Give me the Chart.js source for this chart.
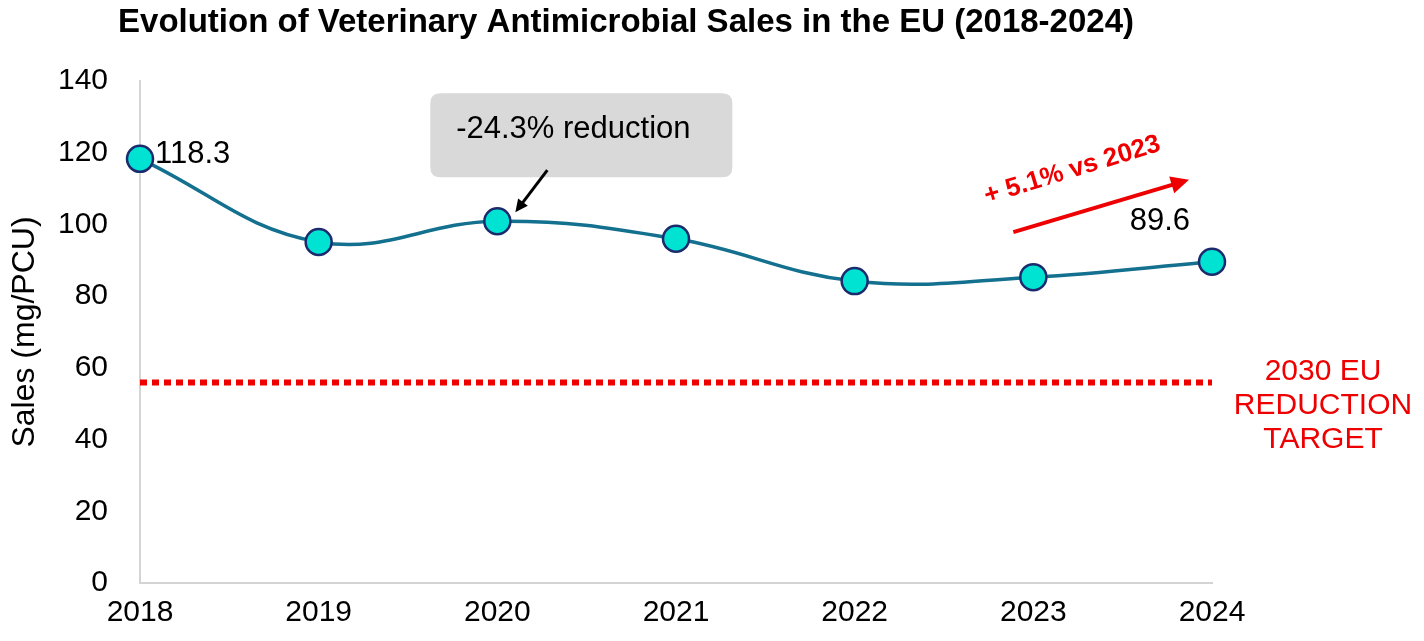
<!DOCTYPE html>
<html>
<head>
<meta charset="utf-8">
<script src="https://cdn.jsdelivr.net/npm/chart.js@4.4.1/dist/chart.umd.min.js"></script>
<style>
  html, body { margin: 0; padding: 0; background: #ffffff; }
  #wrap { width: 1424px; height: 641px; position: relative; }
</style>
</head>
<body>
<div id="wrap"><canvas id="c" width="1424" height="641"></canvas></div>
<script>
const titleText = 'Evolution of Veterinary Antimicrobial Sales in the EU (2018-2024)';
const categories = ['2018', '2019', '2020', '2021', '2022', '2023', '2024'];
const salesValues = [118.3, 95.1, 100.9, 96.0, 84.2, 85.3, 89.6];
const targetValues = [55.9, 55.9, 55.9, 55.9, 55.9, 55.9, 55.9];
const yTicks = [0, 20, 40, 60, 80, 100, 120, 140];
const yAxisTitle = 'Sales (mg/PCU)';
const reductionNote = '-24.3% reduction';
const growthNote = '+ 5.1% vs 2023';
const targetLabel = ['2030 EU', 'REDUCTION', 'TARGET'];

const FONT = "'Liberation Sans', Arial, Helvetica, sans-serif";

function roundRect(ctx, x, y, w, h, r) {
  ctx.beginPath();
  ctx.moveTo(x + r, y);
  ctx.lineTo(x + w - r, y);
  ctx.quadraticCurveTo(x + w, y, x + w, y + r);
  ctx.lineTo(x + w, y + h - r);
  ctx.quadraticCurveTo(x + w, y + h, x + w - r, y + h);
  ctx.lineTo(x + r, y + h);
  ctx.quadraticCurveTo(x, y + h, x, y + h - r);
  ctx.lineTo(x, y + r);
  ctx.quadraticCurveTo(x, y, x + r, y);
  ctx.closePath();
}

function arrow(ctx, x1, y1, x2, y2, color, width, head) {
  const a = Math.atan2(y2 - y1, x2 - x1);
  ctx.save();
  ctx.strokeStyle = color;
  ctx.fillStyle = color;
  ctx.lineWidth = width;
  ctx.beginPath();
  ctx.moveTo(x1, y1);
  ctx.lineTo(x2 - Math.cos(a) * head * 0.8, y2 - Math.sin(a) * head * 0.8);
  ctx.stroke();
  ctx.beginPath();
  ctx.moveTo(x2, y2);
  ctx.lineTo(x2 - head * Math.cos(a - 0.45), y2 - head * Math.sin(a - 0.45));
  ctx.lineTo(x2 - head * Math.cos(a + 0.45), y2 - head * Math.sin(a + 0.45));
  ctx.closePath();
  ctx.fill();
  ctx.restore();
}

const overlayPlugin = {
  id: 'overlay',
  afterDatasetsDraw(chart) {
    const ctx = chart.ctx;
    const pts = chart.getDatasetMeta(0).data;
    const ys = chart.scales.y;

    // Title
    ctx.save();
    ctx.fillStyle = '#000';
    ctx.font = 'bold 33px ' + FONT;
    ctx.textAlign = 'center';
    ctx.textBaseline = 'middle';
    ctx.fillText(titleText, 626, 23);
    ctx.restore();

    // Value labels
    ctx.save();
    ctx.fillStyle = '#000';
    ctx.font = '31px ' + FONT;
    ctx.textBaseline = 'middle';
    ctx.textAlign = 'left';
    ctx.fillText(salesValues[0].toFixed(1), pts[0].x + 15, pts[0].y - 4);
    ctx.textAlign = 'right';
    ctx.fillText(salesValues[6].toFixed(1), pts[6].x - 22, pts[6].y - 40);
    ctx.restore();

    // Reduction call-out box near 2020
    const p2 = pts[2];
    ctx.save();
    roundRect(ctx, p2.x - 67, p2.y - 128, 302, 84, 10);
    ctx.fillStyle = '#d9d9d9';
    ctx.fill();
    ctx.fillStyle = '#000';
    ctx.font = '31px ' + FONT;
    ctx.textAlign = 'center';
    ctx.textBaseline = 'middle';
    ctx.fillText(reductionNote, p2.x + 76, p2.y - 92);
    ctx.restore();
    arrow(ctx, p2.x + 50, p2.y - 51, p2.x + 18, p2.y - 9, '#000', 3, 14);

    // Growth arrow and note
    const p5 = pts[5], p6 = pts[6];
    arrow(ctx, p5.x - 20, p5.y - 45, p6.x - 23, p6.y - 82, '#ee0000', 4, 20);
    ctx.save();
    ctx.translate(p5.x + 39, p5.y - 107);
    ctx.rotate(-17 * Math.PI / 180);
    ctx.fillStyle = '#ee0000';
    ctx.font = 'bold 26px ' + FONT;
    ctx.textAlign = 'center';
    ctx.textBaseline = 'middle';
    ctx.fillText(growthNote, 0, 0);
    ctx.restore();

    // Target label
    const ty = ys.getPixelForValue(targetValues[0]);
    ctx.save();
    ctx.fillStyle = '#ee0000';
    ctx.font = '30px ' + FONT;
    ctx.textAlign = 'center';
    ctx.textBaseline = 'middle';
    targetLabel.forEach((t, i) => ctx.fillText(t, chart.chartArea.right + 111, ty - 11 + i * 34));
    ctx.restore();
  }
};

new Chart(document.getElementById('c'), {
  type: 'line',
  data: {
    labels: categories,
    datasets: [
      {
        data: salesValues,
        borderColor: '#13708f',
        borderWidth: 3.5,
        tension: 0.4,
        pointRadius: 13,
        pointBackgroundColor: '#00e2d2',
        pointBorderColor: '#1c2a6e',
        pointBorderWidth: 2.5,
        order: 0
      },
      {
        data: targetValues,
        borderColor: '#ee0000',
        borderWidth: 6,
        borderDash: [7, 5],
        pointRadius: 0,
        tension: 0,
        order: 1
      }
    ]
  },
  options: {
    responsive: false,
    animation: false,
    events: [],
    layout: { padding: { top: 81, right: 212, bottom: 0, left: 0 } },
    plugins: {
      legend: { display: false },
      tooltip: { enabled: false },
      title: { display: false }
    },
    scales: {
      x: {
        offset: false,
        grid: { display: false, drawTicks: false },
        border: { display: true, color: '#d4d4d4', width: 2 },
        ticks: { color: '#000', font: { family: FONT, size: 30 }, padding: 12, maxRotation: 0 },
        afterFit(s) { s.height = 58; }
      },
      y: {
        min: 0,
        max: 140,
        afterBuildTicks(s) { s.ticks = yTicks.map(v => ({ value: v })); },
        grid: { display: false, drawTicks: false },
        border: { display: true, color: '#d4d4d4', width: 2 },
        ticks: { color: '#000', font: { family: FONT, size: 30 }, padding: 32 },
        title: {
          display: true,
          text: yAxisTitle,
          color: '#000',
          font: { family: FONT, size: 32 },
          padding: { top: 6, bottom: 0 }
        },
        afterFit(s) { s.width = 140; }
      }
    }
  },
  plugins: [overlayPlugin]
});
</script>
</body>
</html>
